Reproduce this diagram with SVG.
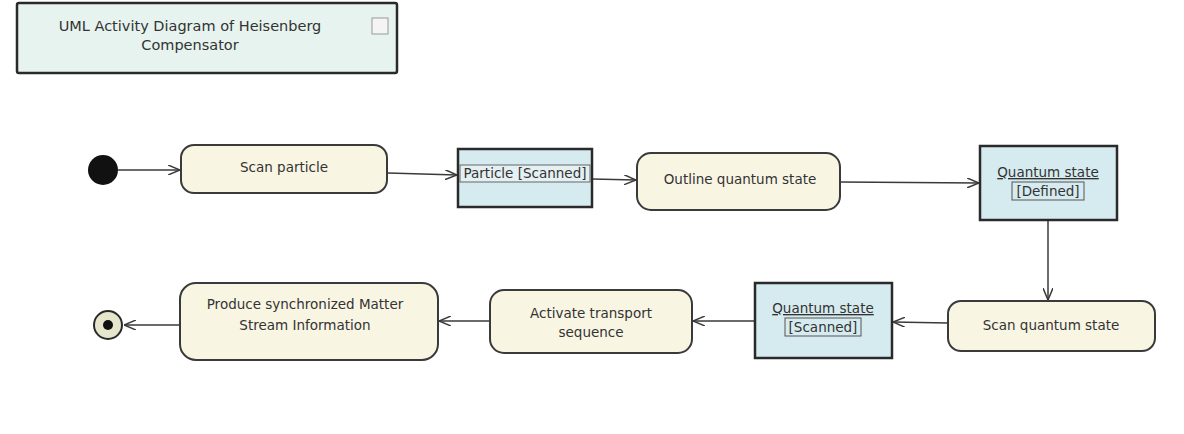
<svg xmlns="http://www.w3.org/2000/svg" width="1184" height="434" viewBox="0 0 1184 434">
<defs>
<style>
.act{fill:#f8f5e3;stroke:#3a3a3a;stroke-width:2}
.obj{fill:#d5ebef;stroke:#2a2a2a;stroke-width:2.5}
.t{font-family:"DejaVu Sans",sans-serif;font-size:13.5px;fill:#333333;text-anchor:middle}
.e{fill:none;stroke:#3a3a3a;stroke-width:1.5}
</style>
<marker id="arr" viewBox="0 0 12 10" refX="12" refY="5" markerWidth="12" markerHeight="10" markerUnits="userSpaceOnUse" orient="auto">
<path d="M0,0 L12,5 L0,10" fill="none" stroke="#3a3a3a" stroke-width="1.5"/>
</marker>
</defs>
<rect width="1184" height="434" fill="#ffffff"/>

<g id="title">
<rect x="17" y="3" width="380" height="70" rx="2" fill="#e6f3ef" stroke="#2a2a2a" stroke-width="2.5"/>
<rect x="372" y="18" width="16" height="16" fill="#f4f4f4" stroke="#999" stroke-width="1"/>
<text class="t" x="190" y="31" style="font-size:14.5px">UML Activity Diagram of Heisenberg</text>
<text class="t" x="190" y="50" style="font-size:14.5px">Compensator</text>
</g>

<g id="connectors">
<line class="e" x1="118" y1="170" x2="180" y2="170" marker-end="url(#arr)"/>
<line class="e" x1="388" y1="173" x2="457" y2="175" marker-end="url(#arr)"/>
<line class="e" x1="592" y1="179" x2="636" y2="180" marker-end="url(#arr)"/>
<line class="e" x1="840" y1="182" x2="979" y2="183" marker-end="url(#arr)"/>
<line class="e" x1="1048" y1="221" x2="1048" y2="300" marker-end="url(#arr)"/>
<line class="e" x1="948" y1="323" x2="893" y2="322" marker-end="url(#arr)"/>
<line class="e" x1="755" y1="321" x2="693" y2="321" marker-end="url(#arr)"/>
<line class="e" x1="490" y1="321" x2="439" y2="321" marker-end="url(#arr)"/>
<line class="e" x1="180" y1="325" x2="124" y2="325" marker-end="url(#arr)"/>
</g>

<g id="initial">
<circle cx="103" cy="170" r="15" fill="#111"/>
</g>

<g id="scan-particle">
<rect class="act" x="181" y="145" width="206" height="48" rx="13"/>
<text class="t" x="284" y="172">Scan particle</text>
</g>

<g id="particle-scanned">
<rect class="obj" x="458" y="149" width="134" height="58"/>
<rect x="460" y="165" width="130" height="17" fill="#e4f0f2" stroke="#666" stroke-width="1"/>
<text class="t" x="525" y="178">Particle [Scanned]</text>
</g>

<g id="outline-quantum-state">
<rect class="act" x="637" y="153" width="203" height="57" rx="14"/>
<text class="t" x="740" y="184">Outline quantum state</text>
</g>

<g id="quantum-state-defined">
<rect class="obj" x="980" y="146" width="137" height="74"/>
<text class="t" x="1048" y="177" text-decoration="underline">Quantum state</text>
<rect x="1012" y="182" width="72" height="18" fill="none" stroke="#555" stroke-width="1"/>
<text class="t" x="1048" y="196">[Defined]</text>
</g>

<g id="scan-quantum-state">
<rect class="act" x="948" y="301" width="207" height="50" rx="13"/>
<text class="t" x="1051" y="330">Scan quantum state</text>
</g>

<g id="quantum-state-scanned">
<rect class="obj" x="755" y="283" width="137" height="75"/>
<text class="t" x="823" y="313" text-decoration="underline">Quantum state</text>
<rect x="785" y="318" width="76" height="18" fill="none" stroke="#555" stroke-width="1"/>
<text class="t" x="823" y="332">[Scanned]</text>
</g>

<g id="activate-transport">
<rect class="act" x="490" y="290" width="202" height="63" rx="14"/>
<text class="t" x="591" y="318">Activate transport</text>
<text class="t" x="591" y="337">sequence</text>
</g>

<g id="produce-matter">
<rect class="act" x="180" y="283" width="258" height="77" rx="16"/>
<text class="t" x="305" y="309">Produce synchronized Matter</text>
<text class="t" x="305" y="330">Stream Information</text>
</g>

<g id="final">
<circle cx="108" cy="325" r="14" fill="#e6e6cc" stroke="#2a2a2a" stroke-width="2"/>
<circle cx="108" cy="325" r="5" fill="#111"/>
</g>
</svg>
